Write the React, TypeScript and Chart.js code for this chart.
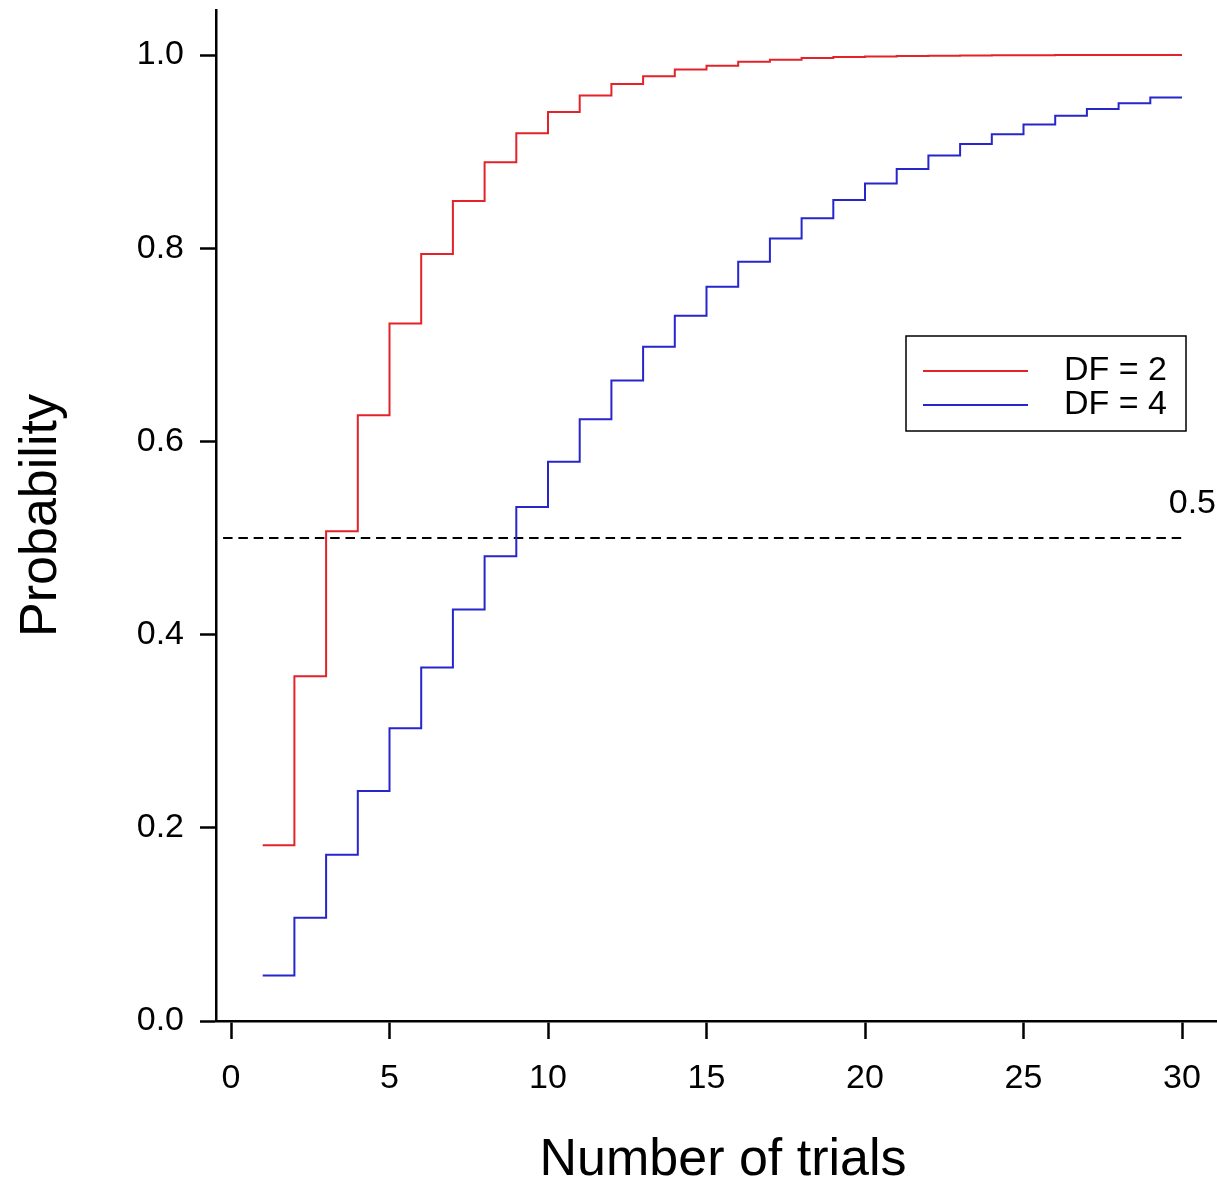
import React, { useEffect, useRef } from 'react';
import { Chart, registerables } from 'chart.js';

Chart.register(...registerables);

// ---- data ----
const trials = [1, 2, 3, 4, 5, 6, 7, 8, 9, 10, 11, 12, 13, 14, 15, 16, 17, 18, 19, 20, 21, 22, 23, 24, 25, 26, 27, 28, 29, 30];
const df2Values = [
  0.182, 0.357, 0.507, 0.627, 0.722, 0.794, 0.849, 0.889, 0.919, 0.941,
  0.958, 0.970, 0.978, 0.985, 0.989, 0.993, 0.995, 0.997, 0.998, 0.9985,
  0.999, 0.9993, 0.9995, 0.9997, 0.9998, 0.9999, 0.9999, 1.0, 1.0, 1.0,
];
const df4Values = [
  0.047, 0.107, 0.172, 0.238, 0.303, 0.366, 0.426, 0.481, 0.532, 0.579,
  0.623, 0.663, 0.698, 0.730, 0.760, 0.786, 0.810, 0.831, 0.850, 0.867,
  0.882, 0.896, 0.908, 0.918, 0.928, 0.937, 0.944, 0.950, 0.956, 0.956,
];
const seriesLabels = ['DF = 2', 'DF = 4'];
const thresholdValue = 0.5;
const thresholdLabel = '0.5';
const thresholdRange = [-0.25, 30];
const xTicks = [0, 5, 10, 15, 20, 25, 30];
const yTicks = [0, 0.2, 0.4, 0.6, 0.8, 1.0];
const xTitle = 'Number of trials';
const yTitle = 'Probability';

// ---- styles ----
const FONT = "'Liberation Sans', Arial, Helvetica, sans-serif";
const RED = '#e2232a';
const BLUE = '#2626cc';
const W = 1217;
const H = 1187;

const overlayPlugin = {
  id: 'overlay',
  afterDraw(chart: any) {
    const { ctx } = chart;
    const yScale = chart.scales.y;
    ctx.save();
    // x axis title
    ctx.fillStyle = '#000';
    ctx.font = `52px ${FONT}`;
    ctx.textAlign = 'center';
    ctx.textBaseline = 'middle';
    ctx.fillText(xTitle, 723, 1161);

    // threshold label
    ctx.font = `34px ${FONT}`;
    ctx.textAlign = 'right';
    ctx.fillText(thresholdLabel, W - 1, yScale.getPixelForValue(thresholdValue) - 34);

    // legend box
    const bx = 906, by = 336, bw = 280, bh = 95;
    ctx.fillStyle = '#fff';
    ctx.fillRect(bx, by, bw, bh);
    ctx.strokeStyle = '#000';
    ctx.lineWidth = 1.5;
    ctx.strokeRect(bx, by, bw, bh);
    const rows = [371, 405];
    chart.data.datasets.slice(0, 2).forEach((ds: any, i: number) => {
      ctx.strokeStyle = ds.borderColor;
      ctx.lineWidth = 2;
      ctx.beginPath();
      ctx.moveTo(923, rows[i]);
      ctx.lineTo(1028, rows[i]);
      ctx.stroke();
      ctx.fillStyle = '#000';
      ctx.font = `34px ${FONT}`;
      ctx.textAlign = 'right';
      ctx.textBaseline = 'middle';
      ctx.fillText(ds.label, 1167, rows[i]);
    });
    ctx.restore();
  },
};

export default function App() {
  const ref = useRef<HTMLCanvasElement | null>(null);

  useEffect(() => {
    if (!ref.current) return;
    const chart = new Chart(ref.current, {
      type: 'line',
      data: {
        datasets: [
          {
            label: seriesLabels[0],
            data: trials.map((t, i) => ({ x: t, y: df2Values[i] })),
            borderColor: RED,
            borderWidth: 2,
            stepped: 'before',
            pointRadius: 0,
            fill: false,
          },
          {
            label: seriesLabels[1],
            data: trials.map((t, i) => ({ x: t, y: df4Values[i] })),
            borderColor: BLUE,
            borderWidth: 2,
            stepped: 'before',
            pointRadius: 0,
            fill: false,
          },
          {
            label: 'threshold',
            data: thresholdRange.map((x) => ({ x, y: thresholdValue })),
            borderColor: '#000',
            borderWidth: 2,
            borderDash: [9.5, 5.8],
            pointRadius: 0,
            fill: false,
          },
        ],
      } as any,
      options: {
        responsive: false,
        animation: false,
        devicePixelRatio: 1,
        layout: { padding: { top: 10, left: 0, right: 0, bottom: 0 } },
        plugins: { legend: { display: false }, tooltip: { enabled: false } },
        scales: {
          x: {
            type: 'linear',
            min: -0.4732,
            max: 31.104,
            afterBuildTicks: (s: any) => {
              s.ticks = xTicks.map((v) => ({ value: v }));
            },
            afterFit: (s: any) => {
              s.height = 166;
              s.paddingLeft = 0;
              s.paddingRight = 0;
            },
            grid: { drawOnChartArea: false, drawTicks: true, tickLength: 18, tickWidth: 2.5, tickColor: '#000' },
            border: { display: true, color: '#000', width: 2.5 },
            ticks: {
              font: { family: FONT, size: 34 },
              color: '#000',
              padding: 19,
              maxRotation: 0,
              autoSkip: false,
              callback: (v: any) => String(v),
            },
            title: { display: false },
          },
          y: {
            type: 'linear',
            min: 0,
            max: 1.0466,
            afterBuildTicks: (s: any) => {
              s.ticks = yTicks.map((v) => ({ value: v }));
            },
            afterFit: (s: any) => {
              s.width = 216;
              s.paddingTop = 0;
              s.paddingBottom = 0;
            },
            grid: { drawOnChartArea: false, drawTicks: true, tickLength: 16, tickWidth: 2.5, tickColor: '#000' },
            border: { display: true, color: '#000', width: 2.5 },
            ticks: {
              font: { family: FONT, size: 34 },
              color: '#000',
              padding: 16,
              callback: (v: any) => Number(v).toFixed(1),
            },
            title: {
              display: true,
              text: yTitle,
              color: '#000',
              font: { family: FONT, size: 52, lineHeight: 1 },
              padding: { top: 16, bottom: 0 },
            },
          },
        },
      } as any,
      plugins: [overlayPlugin],
    });
    return () => chart.destroy();
  }, []);

  return (
    <div style={{ position: 'fixed', left: 0, top: 0, width: W, height: H, background: '#fff' }}>
      <canvas ref={ref} width={W} height={H} style={{ width: W, height: H, display: 'block' }} />
    </div>
  );
}
